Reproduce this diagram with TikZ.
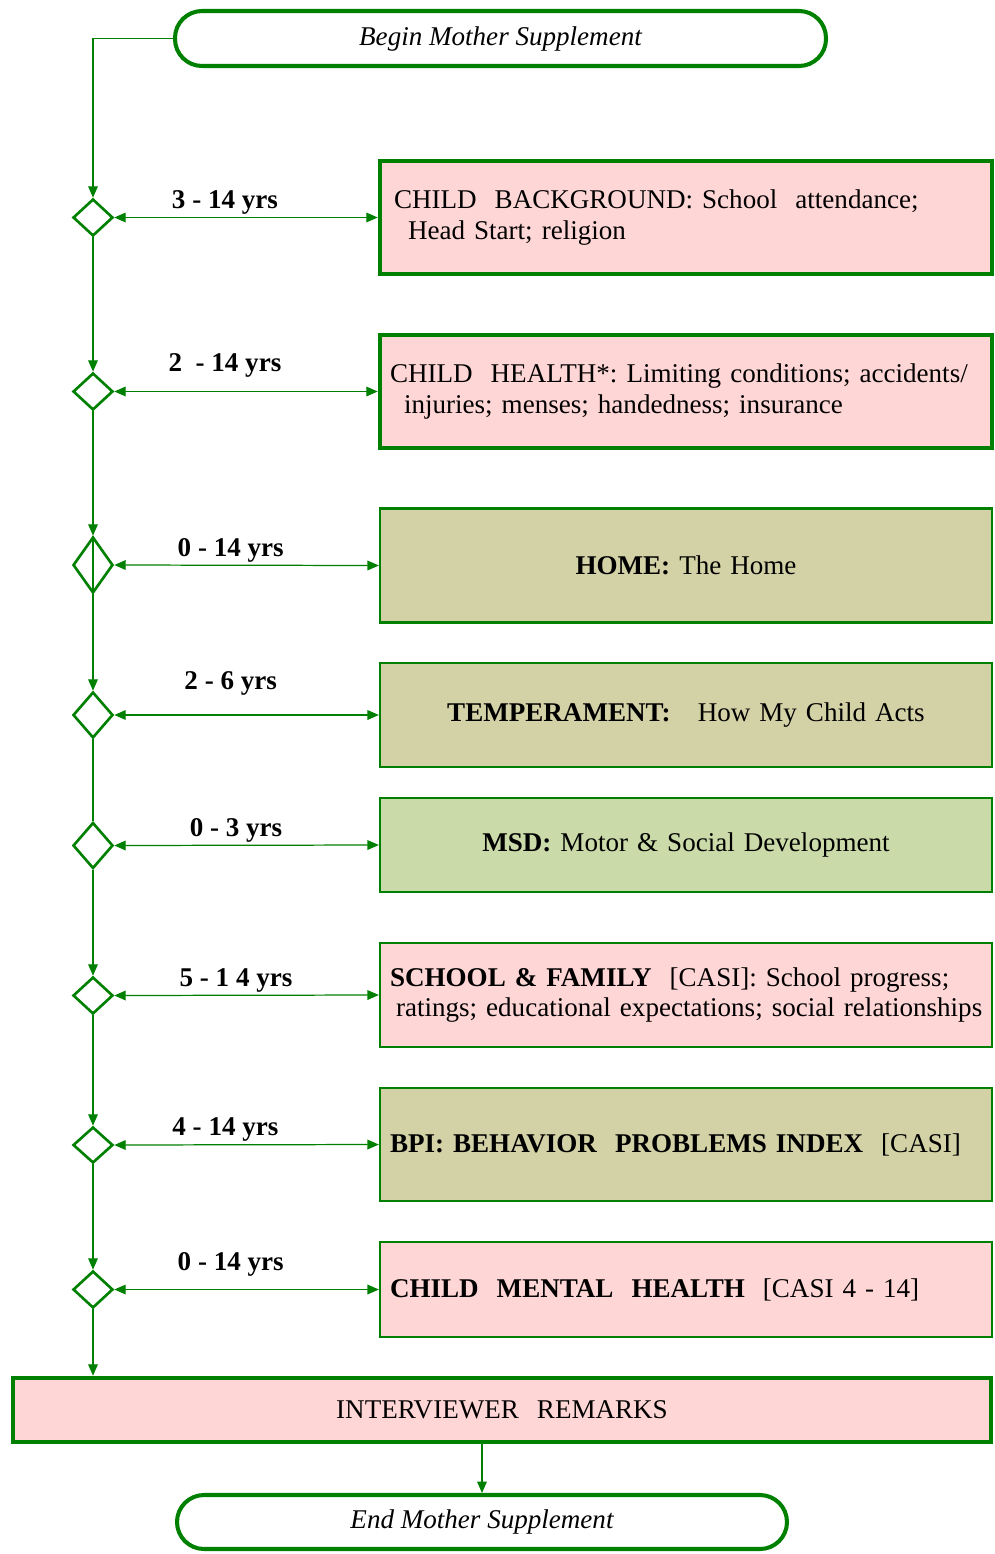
\documentclass[tikz,border=0pt]{standalone}
\usepackage{fontspec}
\setmainfont{Liberation Serif}
\usepackage{tikz}
\usetikzlibrary{arrows.meta,shapes.geometric,positioning}
\frenchspacing
\definecolor{flowgreen}{RGB}{0,128,0}
\definecolor{boxpink}{RGB}{255,214,214}
\definecolor{boxolive}{RGB}{211,209,166}
\definecolor{boxsage}{RGB}{202,218,168}
\tikzset{>={Triangle[length=6.5pt,width=5.5pt]}}
\tikzset{
    every node/.style={font=\fontsize{15.4}{17.6}\selectfont},
    terminal/.style={rectangle,draw=flowgreen,line width=2.3pt,rounded corners=0.54cm,minimum height=1.1cm,inner sep=0pt,font=\fontsize{15.4}{17.6}\selectfont\itshape},
    decision/.style={diamond,draw=flowgreen,line width=1.5pt,inner sep=0pt,minimum width=0.8cm,minimum height=0.74cm},
    infobox/.style={rectangle,draw=flowgreen,line width=1.3pt,minimum width=12.24cm,inner xsep=0.2cm,text width=11.84cm},
    thickbox/.style={infobox,line width=2.6pt},
    leftbox/.style={align=left},
    midbox/.style={align=center},
    agelabel/.style={above,inner sep=1.5pt,font=\fontsize{15.4}{17.6}\selectfont\bfseries,text=black},
    flow/.style={draw=flowgreen,line width=0.7pt},
}
\begin{document}
\begin{tikzpicture}
		\useasboundingbox (0,0) rectangle (19.9,-31.08);

		\node[terminal,minimum width=13.02cm] (beginms) at (10.01,-0.77) {Begin Mother Supplement};

		\node[decision] (d1) at (1.86,-4.35) {};
		\node[decision] (d2) at (1.86,-7.83) {};
		\node[decision,minimum height=1.12cm] (d3) at (1.86,-11.30) {};
		\node[decision,minimum height=0.92cm] (d4) at (1.86,-14.30) {};
		\node[decision,minimum height=0.92cm] (d5) at (1.86,-16.91) {};
		\node[decision] (d6) at (1.86,-19.91) {};
		\node[decision,minimum height=0.72cm] (d7) at (1.86,-22.90) {};
		\node[decision] (d8) at (1.86,-25.79) {};

		\node[thickbox,leftbox,fill=boxpink,minimum height=2.26cm] (background) at (13.72,-4.35)
			{\hspace*{0.08cm}CHILD\ \ BACKGROUND: School\ \ attendance;\\\hspace*{0.36cm}Head Start; religion};
		\node[thickbox,leftbox,fill=boxpink,minimum height=2.26cm] (health) at (13.72,-7.83)
			{CHILD\ \ HEALTH*: Limiting conditions; accidents/\\\hspace*{0.28cm}injuries; menses; handedness; insurance};
		\node[infobox,midbox,fill=boxolive,minimum height=2.28cm] (home) at (13.72,-11.31)
			{\textbf{HOME:} The Home};
		\node[infobox,midbox,fill=boxolive,minimum height=2.08cm] (temper) at (13.72,-14.30)
			{\textbf{TEMPERAMENT:}\ \ \ How My Child Acts};
		\node[infobox,midbox,fill=boxsage,minimum height=1.88cm] (msd) at (13.72,-16.90)
			{\textbf{MSD:} Motor \& Social Development};
		\node[infobox,leftbox,fill=boxpink,minimum height=2.08cm] (school) at (13.72,-19.90)
			{\textbf{SCHOOL \& FAMILY}\ \ [CASI]: School progress;\\\mbox{\hspace*{0.12cm}ratings; educational expectations; social relationships}};
		\node[infobox,leftbox,fill=boxolive,minimum height=2.26cm] (bpi) at (13.72,-22.89)
			{\textbf{BPI: BEHAVIOR\ \ PROBLEMS INDEX}\ \ [CASI]};
		\node[infobox,leftbox,fill=boxpink,minimum height=1.90cm] (mental) at (13.72,-25.79)
			{\textbf{CHILD\ \ MENTAL\ \ HEALTH}\ \ [CASI 4 - 14]};

		\node[thickbox,midbox,fill=boxpink,minimum width=19.56cm,text width=19.1cm,minimum height=1.28cm] (remarks) at (10.04,-28.20)
			{INTERVIEWER\ \ REMARKS};
		\node[terminal,minimum width=12.2cm,minimum height=1.08cm] (endms) at (9.64,-30.44) {End Mother Supplement};

		% spine
		\draw[flow,->] (beginms.west) -| (d1.north);
		\draw[flow,->] (d1.south) -- (d2.north);
		\draw[flow,->] (d2.south) -- (d3.north);
		\draw[flow,->] (d3.north) -- (d4.north);
		\draw[flow] (d4.south) -- (d5.north);
		\draw[flow,->] (d5.south) -- (d6.north);
		\draw[flow,->] (d6.south) -- (d7.north);
		\draw[flow,->] (d7.south) -- (d8.north);
		\draw[flow,->] (d8.south) -- (d8.south |- remarks.north);
		\draw[flow,->] (remarks.south -| endms.north) -- (endms.north);

		% sections
		\draw[flow,<->] (d1.east) -- node[agelabel,pos=0.42] (age1) {3 - 14 yrs} (background.west);
		\draw[flow,<->] (d2.east) -- node[agelabel,pos=0.42,yshift=0.22cm] (age2) {2\ \ - 14 yrs} (health.west);
		\draw[flow,<->] (d3.east) -- node[agelabel,pos=0.44] (age3) {0 - 14 yrs} (home.west);
		\draw[flow,<->] (d4.east) -- node[agelabel,pos=0.44,yshift=0.32cm] (age4) {2 - 6 yrs} (temper.west);
		\draw[flow,<->] (d5.east) -- node[agelabel,pos=0.46] (age5) {0 - 3 yrs} (msd.west);
		\draw[flow,<->] (d6.east) -- node[agelabel,pos=0.46] (age6) {5 - 1 4 yrs} (school.west);
		\draw[flow,<->] (d7.east) -- node[agelabel,pos=0.42] (age7) {4 - 14 yrs} (bpi.west);
		\draw[flow,<->] (d8.east) -- node[agelabel,pos=0.44,yshift=0.2cm] (age8) {0 - 14 yrs} (mental.west);
	\end{tikzpicture}
\end{document}
